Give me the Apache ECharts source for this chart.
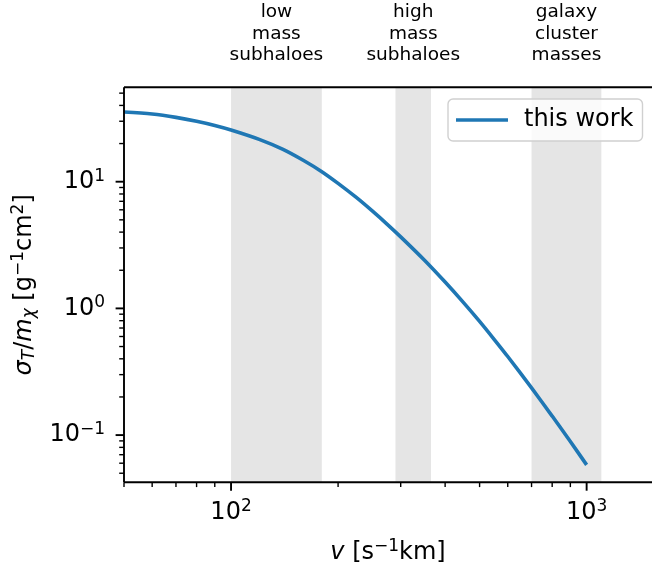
<!DOCTYPE html>
<html><head><meta charset="utf-8">
<script src="https://cdn.jsdelivr.net/npm/echarts@6/dist/echarts.min.js"></script>
<style>html,body{margin:0;padding:0;background:#fff}#c{width:652px;height:565px}</style>
</head><body><div id="c"></div>
<script>
// ---- data ----
const velocity   = [50, 60, 70, 80, 90, 100, 120, 140, 160, 180, 200, 225, 250, 275, 300, 350, 400, 450, 500, 550, 600, 700, 800, 900, 1000];
const sigmaOverM = [35.5, 34.2, 32.2, 30.0, 27.8, 25.6, 21.6, 18.0, 14.7, 12.0, 9.70, 7.51, 5.85, 4.61, 3.67, 2.40, 1.614, 1.116, 0.790, 0.568, 0.417, 0.2356, 0.1413, 0.0889, 0.0582];
const seriesName = 'this work';

const bandLow    = [100, 290, 700];
const bandHigh   = [180, 365, 1100];
const bandLabels = ['low\nmass\nsubhaloes', 'high\nmass\nsubhaloes', 'galaxy\ncluster\nmasses'];

const xLimits = [50, 1527];
const yLimits = [0.0424, 55.6];
const xMajorTicks = [100, 1000];
const xMinorTicks = [50, 60, 70, 80, 90, 200, 300, 400, 500, 600, 700, 800, 900];
const yMajorTicks = [0.1, 1, 10];
const yMinorTicks = [0.05, 0.06, 0.07, 0.08, 0.09, 0.2, 0.3, 0.4, 0.5, 0.6, 0.7, 0.8, 0.9,
                     2, 3, 4, 5, 6, 7, 8, 9, 20, 30, 40, 50];

// ---- chart ----
const FONT = 'DejaVu Sans';
const chart = echarts.init(document.getElementById('c'), null, {renderer: 'canvas'});

function supStr(e) { return e < 0 ? '\u2212' + (-e) : String(e); }
function powLabel(v) {
  const e = Math.round(Math.log10(v));
  if (Math.abs(v - Math.pow(10, e)) > 1e-6 * Math.abs(v)) return '';
  return '{b|10}{s|' + supStr(e) + '}';
}
const tickRich = {
  b: {fontFamily: FONT, fontSize: 24, lineHeight: 28, color: '#000'},
  s: {fontFamily: FONT, fontSize: 17, lineHeight: 18, verticalAlign: 'top', color: '#000'}
};
const nameRich = {
  n: {fontFamily: FONT, fontSize: 24, lineHeight: 28, color: '#000'},
  i: {fontFamily: FONT, fontSize: 24, lineHeight: 28, fontStyle: 'italic', color: '#000'},
  sub: {fontFamily: FONT, fontSize: 17, lineHeight: 16, fontStyle: 'italic', verticalAlign: 'bottom', color: '#000'},
  sup: {fontFamily: FONT, fontSize: 17, lineHeight: 18, verticalAlign: 'top', color: '#000'}
};

function renderBands(params, api) {
  const i = params.dataIndex;
  const lo = api.value(0), hi = api.value(1);
  const pTop = api.coord([lo, yLimits[1]]);
  const pBot = api.coord([hi, yLimits[0]]);
  const mid = api.coord([Math.sqrt(lo * hi), yLimits[1]]);
  return {
    type: 'group',
    children: [
      {type: 'rect', shape: {x: pTop[0], y: pTop[1], width: pBot[0] - pTop[0], height: pBot[1] - pTop[1]},
       style: {fill: '#e5e5e5'}},
      {type: 'text', x: mid[0], y: 33.8,
       style: {text: bandLabels[i], fill: '#000', fontFamily: FONT, fontSize: 18.5, lineHeight: 21.7,
               align: 'center', verticalAlign: 'middle'}}
    ]
  };
}

function renderFrame(params, api) {
  const ch = [];
  const tl = api.coord([xLimits[0], yLimits[1]]);
  const br = api.coord([xLimits[1], yLimits[0]]);
  const spine = {stroke: '#000', lineWidth: 1.9};
  ch.push({type: 'line', shape: {x1: tl[0], y1: tl[1], x2: br[0] + 5, y2: tl[1]}, style: spine});
  ch.push({type: 'line', shape: {x1: tl[0], y1: br[1], x2: br[0] + 5, y2: br[1]}, style: spine});
  ch.push({type: 'line', shape: {x1: tl[0], y1: tl[1], x2: tl[0], y2: br[1]}, style: spine});
  xMajorTicks.forEach(v => { const p = api.coord([v, yLimits[0]]);
    ch.push({type: 'line', shape: {x1: p[0], y1: p[1], x2: p[0], y2: p[1] + 8.4}, style: {stroke: '#000', lineWidth: 1.9}}); });
  xMinorTicks.forEach(v => { const p = api.coord([v, yLimits[0]]);
    ch.push({type: 'line', shape: {x1: p[0], y1: p[1], x2: p[0], y2: p[1] + 4.8}, style: {stroke: '#000', lineWidth: 1.4}}); });
  yMajorTicks.forEach(v => { const p = api.coord([xLimits[0], v]);
    ch.push({type: 'line', shape: {x1: p[0], y1: p[1], x2: p[0] - 8.4, y2: p[1]}, style: {stroke: '#000', lineWidth: 1.9}}); });
  yMinorTicks.forEach(v => { const p = api.coord([xLimits[0], v]);
    ch.push({type: 'line', shape: {x1: p[0], y1: p[1], x2: p[0] - 4.8, y2: p[1]}, style: {stroke: '#000', lineWidth: 1.4}}); });
  return {type: 'group', children: ch};
}

const option = {
  animation: false,
  backgroundColor: '#fff',
  grid: {left: 124, right: 0, top: 87.3, bottom: 82.7, show: false, containLabel: false, outerBoundsMode: 'none'},
  legend: {
    data: [{name: seriesName, icon: 'path://M0,0L52,0L52,3.6L0,3.6Z'}],
    left: 448, top: 99,
    orient: 'vertical',
    padding: [8, 9, 8, 8],
    backgroundColor: 'rgba(255,255,255,0.8)',
    borderColor: '#d0d0d0', borderWidth: 1.4, borderRadius: 5,
    itemWidth: 52, itemHeight: 26,
    itemStyle: {color: '#1f77b4'},
    textStyle: {fontFamily: FONT, fontSize: 24, lineHeight: 26, color: '#000', padding: [0, 0, 0, 11]}
  },
  xAxis: {
    type: 'log', logBase: 10, min: xLimits[0], max: xLimits[1],
    axisLine: {show: false}, axisTick: {show: false}, splitLine: {show: false},
    axisLabel: {formatter: powLabel, rich: tickRich, margin: 16, showMinLabel: false, showMaxLabel: false},
    name: '{i|v}{n| [s}{sup|\u22121}{n|km]}',
    nameLocation: 'middle', nameGap: 56,
    nameTextStyle: {rich: nameRich}
  },
  yAxis: {
    type: 'log', logBase: 10, min: yLimits[0], max: yLimits[1],
    axisLine: {show: false}, axisTick: {show: false}, splitLine: {show: false},
    axisLabel: {formatter: powLabel, rich: tickRich, margin: 19, showMinLabel: false, showMaxLabel: false},
    name: '{i|\u03c3}{sub|T}{n|/}{i|m}{sub|\u03c7}{n| [g}{sup|\u22121}{n|cm}{sup|2}{n|]}',
    nameLocation: 'middle', nameGap: 85, nameRotate: 90,
    nameTextStyle: {rich: nameRich}
  },
  series: [
    {
      type: 'custom', name: 'bands', z: 1, clip: false, silent: true,
      data: bandLow.map((lo, i) => [lo, bandHigh[i]]),
      encode: {x: [0, 1], y: 1},
      renderItem: renderBands
    },
    {
      type: 'line', name: seriesName, z: 3,
      data: velocity.map((v, i) => [v, sigmaOverM[i]]),
      symbol: 'none', smooth: 0.3,
      lineStyle: {color: '#1f77b4', width: 3.6},
      itemStyle: {color: '#1f77b4'}
    },
    {
      type: 'custom', name: 'frame', z: 4, clip: false, silent: true,
      data: [[xLimits[0], yLimits[0]]],
      renderItem: renderFrame
    }
  ]
};
chart.setOption(option);
</script>
</body></html>
